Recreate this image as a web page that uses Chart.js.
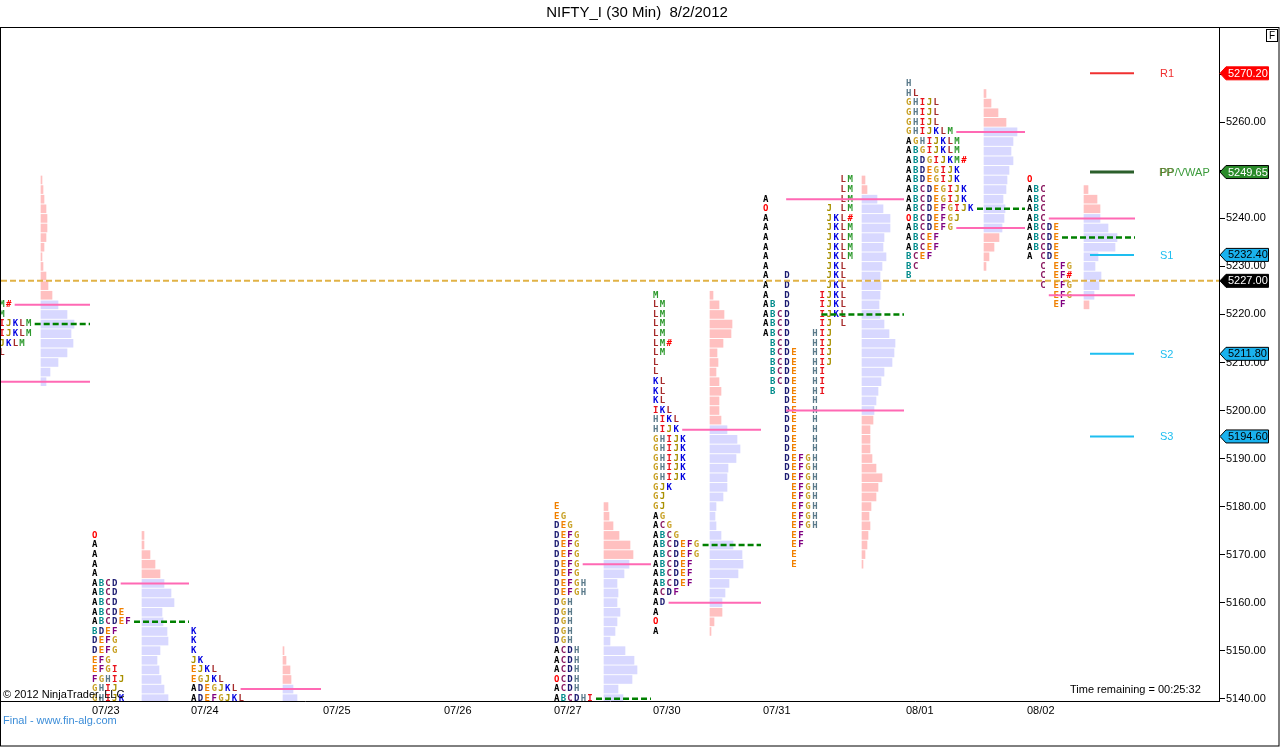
<!DOCTYPE html>
<html>
<head>
<meta charset="utf-8">
<title>NIFTY_I (30 Min) 8/2/2012</title>
<script src="https://cdn.jsdelivr.net/npm/chart.js@4.4.1/dist/chart.umd.min.js"></script>
<style>
  html, body { margin: 0; padding: 0; background: #fff; }
  #wrap { width: 1280px; height: 747px; }
</style>
</head>
<body>
<div id="wrap"><canvas id="myChart" width="1280" height="747"></canvas></div>
<script>
// sessions on the time axis (07/20 is the one cut off on the left)
const dayLabels = ['07/20', '07/23', '07/24', '07/25', '07/26', '07/27', '07/30', '07/31', '08/01', '08/02'];
const dayStarts = [-14, 92, 191, 323, 444, 554, 653, 763, 906, 1027];
const nextSessionStart = 1137;
const histStarts = [41, 142, 283, null, null, 604, 710, 862, 984, 1084];
const tpoPitch = [6.67, 6.67, 6.8, 6.67, 6.67, 6.67, 6.8, 7.05, 6.9, 6.6];

// TPO letters, one string per 2-point row, top row first
const tpoTop = [5222, 5174, 5154, null, null, 5180, 5224, 5248, 5268, 5248];
const tpo0720 = ['KLM#', 'KLM', 'GHIJKLM', 'GHIJKLM', 'HIJKLM', 'JKL'];
const tpo0723 = ['O', 'A', 'A', 'A', 'A', 'ABCD', 'ABCD', 'ABCD', 'ABCDE', 'ABCDEF', 'BDEF', 'DEFG',
  'DEFG', 'EFG', 'EFGI', 'FGHIJ', 'GHIJ', 'GHIJK'];
const tpo0724 = ['K', 'K', 'K', 'JK', 'EJKL', 'EGJKL', 'ADEGJKL', 'ADEFGJKL'];
const tpo0727 = ['E', 'EG', 'DEG', 'DEFG', 'DEFG', 'DEFG', 'DEFG', 'DEFG', 'DEFGH', 'DEFGH', 'DGH', 'DGH',
  'DGH', 'DGH', 'DGH', 'ACDH', 'ACDH', 'ACDH', 'OCDH', 'ACDH', 'ABCDHI'];
const tpo0730 = ['M', 'LM', 'LM', 'LM', 'LM', 'LM#', 'LM', 'L', 'L', 'KL', 'KL', 'KL', 'IKL', 'HIKL', 'HIJK',
  'GHIJK', 'GHIJK', 'GHIJK', 'GHIJK', 'GHIJK', 'GJK', 'GJ', 'GJ', 'AG', 'ACG', 'ABCG', 'ABCDEFG', 'ABCDEFG',
  'ABCDEF', 'ABCDEF', 'ABCDEF', 'ACDF', 'AD', 'A', 'O', 'A'];
const tpo0731 = ['           LM', '           LM', 'A          LM', 'O        J LM', 'A        JKL#',
  'A        JKLM', 'A        JKLM', 'A        JKLM', 'A        JKLM', 'A        JKL', 'A  D     JKL',
  'A  D     JKL', 'A  D    IJKL', 'AB D    IJKL', 'ABCD    IJKL', 'ABCD    IJ L', 'ABCD   HIJ', ' BCD   HIJ',
  ' BCDE  HIJ', ' BCDE  HIJ', ' BCDE  HI', ' BCDE  HI', ' B DE  HI', '   DE  H', '   DE  H', '   DE  H',
  '   DE  H', '   DE  H', '   DE  H', '   DEFGH', '   DEFGH', '   DEFGH', '    EFGH', '    EFGH', '    EFGH',
  '    EFGH', '    EFGH', '    EF', '    EF', '    E', '    E'];
const tpo0801 = ['H', 'HL', 'GHIJL', 'GHIJL', 'GHIJL', 'GHIJKLM', 'AGHIJKLM', 'ABGIJKLM', 'ABDGIJKM#',
  'ABDEGIJK', 'ABDEGIJK', 'ABCDEGIJK', 'ABCDEGIJK', 'ABCDEFGIJK', 'OBCDEFGJ', 'ABCDEFG', 'ABCEF', 'ABCEF',
  'BCEF', 'BC', 'B'];
const tpo0802 = ['O', 'ABC', 'ABC', 'ABC', 'ABC', 'ABCDE', 'ABCDE', 'ABCDE', 'A CDE', '  C EFG', '  C EF#',
  '  C EFG', '    EFG', '    EF'];
const tpoRows = [tpo0720, tpo0723, tpo0724, [], [], tpo0727, tpo0730, tpo0731, tpo0801, tpo0802];

// volume histogram, one bar per 2-point row, top row first
const volTop = [5248, 5174, 5150, null, null, 5180, 5224, 5248, 5266, 5246];
const vol0720 = [1, 2, 3, 5, 6, 6, 5, 3, 1, 2, 5, 7, 11, 17, 26, 33, 30, 32, 26, 17, 9, 5];
const vol0723 = [2, 2, 8, 13, 18, 22, 29, 32, 20, 21, 25, 26, 18, 15, 17, 19, 22, 26];
const vol0724 = [1, 3, 7, 8, 10, 14];
const vol0727 = [4, 5, 9, 15, 26, 29, 25, 20, 13, 14, 13, 16, 13, 11, 6, 21, 30, 33, 28, 14, 19];
const vol0730 = [3, 9, 14, 22, 21, 13, 7, 8, 6, 9, 11, 9, 9, 11, 17, 27, 30, 26, 18, 17, 17, 13,
  6, 5, 6, 11, 23, 32, 33, 28, 19, 15, 12, 12, 4, 1];
const vol0731 = [3, 5, 15, 21, 28, 28, 22, 21, 24, 20, 18, 19, 18, 17, 18, 22, 27, 33, 32, 30, 22, 19, 16,
  14, 12, 11, 8, 8, 8, 10, 14, 20, 16, 14, 9, 7, 8, 6, 5, 3, 1];
const vol0801 = [2, 7, 14, 22, 33, 29, 27, 29, 25, 23, 22, 19, 21, 20, 18, 15, 10, 5, 2];
const vol0802 = [4, 13, 16, 16, 24, 33, 31, 14, 11, 17, 15, 10, 5];
const volRows = [vol0720, vol0723, vol0724, [], [], vol0727, vol0730, vol0731, vol0801, vol0802];

// value area and point of control per session (null = off the chart)
const vah = [5222, 5164, 5142, null, null, 5168, 5196, 5244, 5258, 5240];
const val = [5206, null, null, null, null, null, 5160, 5200, 5238, 5224];
const poc = [5218, 5156, null, null, null, 5140, 5172, 5220, 5242, 5236];
const vaFromCol = [null, null, null, null, null, null, null, 3, null, 3];
const pocFromCol = [null, null, null, null, null, null, null, 8, null, null];

const lastPrice = 5227.00;
const pivotNames = ['R1', 'PP', 'S1', 'S2', 'S3'];
const pivotValues = [5270.20, 5249.65, 5232.40, 5211.80, 5194.60];
const pivotFrom = 1090, pivotTo = 1134;
const yTicks = [5140, 5150, 5160, 5170, 5180, 5190, 5200, 5210, 5220, 5230, 5240, 5250, 5260, 5270];

const letterColors = {
  A: '#000000', B: '#008b8b', C: '#8b1c62', D: '#191970', E: '#f08000', F: '#800080', G: '#c9a227',
  H: '#5a7a8a', I: '#e8101a', J: '#a89000', K: '#0000e0', L: '#a52a2a', M: '#2e9a2e', O: '#ff0000', '#': '#ff0000'
};
const pivotColors = ['#f03030', '#2b5f2b', '#1ebef0', '#1ebef0', '#1ebef0'];
const SANS = '"Liberation Sans", Arial, sans-serif';

// bars
const pinkBars = [], blueBars = [];
volRows.forEach((rows, i) => {
  rows.forEach((w, r) => {
    const price = volTop[i] - r * 2;
    const inVA = price <= vah[i] && price >= (val[i] ?? -Infinity);
    (inVA ? blueBars : pinkBars).push({ y: price, x: [histStarts[i], histStarts[i] + w] });
  });
});

function seg(price, from, to, color, width, dash) {
  return {
    type: 'line', data: [{ x: from, y: price }, { x: to, y: price }],
    borderColor: color, borderWidth: width, borderDash: dash || [],
    pointRadius: 0, fill: false, tension: 0
  };
}

function lineFrom(i, price, col) {
  let c = col;
  if (c == null) {
    const row = tpoRows[i][(tpoTop[i] - price) / 2] || '';
    c = row.trimEnd().length;
  }
  return dayStarts[i] + c * tpoPitch[i] + 2;
}

const lineSets = [];
lineSets.push(seg(lastPrice, 1, 1219, 'rgba(222,170,50,0.9)', 2, [6, 3]));
dayLabels.forEach((d, i) => {
  const end = (i + 1 < dayStarts.length ? dayStarts[i + 1] : nextSessionStart) - 2;
  [vah[i], val[i]].forEach(p => {
    if (p != null) lineSets.push(seg(p, lineFrom(i, p, vaFromCol[i]), end, '#ff69b4', 2));
  });
  if (poc[i] != null) lineSets.push(seg(poc[i], lineFrom(i, poc[i], pocFromCol[i]), end, '#008000', 2.5, [6, 3]));
});
pivotValues.forEach((v, i) => {
  lineSets.push(seg(v, pivotFrom, pivotTo, pivotColors[i], i === 1 ? 3 : 2));
});

function drawTag(ctx, py, text, bg, fg, border) {
  ctx.beginPath();
  ctx.moveTo(1220, py);
  ctx.lineTo(1226, py - 6.5);
  ctx.lineTo(1268.5, py - 6.5);
  ctx.lineTo(1268.5, py + 6.5);
  ctx.lineTo(1226, py + 6.5);
  ctx.closePath();
  ctx.fillStyle = bg;
  ctx.fill();
  ctx.strokeStyle = border;
  ctx.lineWidth = 1;
  ctx.stroke();
  ctx.fillStyle = fg;
  ctx.font = '11px ' + SANS;
  ctx.textAlign = 'left';
  ctx.textBaseline = 'middle';
  ctx.fillText(text, 1228, py + 0.5);
}

const profilePlugin = {
  id: 'profilePlugin',
  beforeDatasetsDraw(chart) {
    const { ctx, chartArea, scales: { x, y } } = chart;
    ctx.save();
    ctx.beginPath();
    ctx.rect(chartArea.left, chartArea.top, chartArea.right - chartArea.left, chartArea.bottom - chartArea.top);
    ctx.clip();
    ctx.font = 'bold 9px "DejaVu Sans Mono", monospace';
    ctx.textAlign = 'left';
    ctx.textBaseline = 'middle';
    tpoRows.forEach((rows, i) => {
      rows.forEach((row, r) => {
        const py = y.getPixelForValue(tpoTop[i] - r * 2);
        [...row].forEach((ch, c) => {
          if (ch === ' ') return;
          ctx.fillStyle = letterColors[ch];
          ctx.fillText(ch, x.getPixelForValue(dayStarts[i] + c * tpoPitch[i]), py);
        });
      });
    });
    ctx.restore();
  },
  afterDraw(chart) {
    const { ctx, scales: { y } } = chart;
    ctx.save();
    // title and frame
    ctx.fillStyle = '#000';
    ctx.font = '15px ' + SANS;
    ctx.textAlign = 'center';
    ctx.textBaseline = 'middle';
    ctx.fillText('NIFTY_I (30 Min)  8/2/2012', 637, 13);
    ctx.strokeStyle = '#000';
    ctx.lineWidth = 1;
    ctx.strokeRect(0.5, 27.5, 1278.5, 718.5);
    ctx.strokeRect(1266.5, 29.5, 11, 12);
    ctx.font = '10px ' + SANS;
    ctx.fillText('F', 1272, 36);

    // pivot names
    ctx.font = '11px ' + SANS;
    ctx.textAlign = 'left';
    pivotValues.forEach((v, i) => {
      const py = y.getPixelForValue(v);
      ctx.fillStyle = i === 1 ? '#3a9a3a' : pivotColors[i];
      ctx.fillText(i === 1 ? 'PP/VWAP' : pivotNames[i], 1160, py + 1);
      if (i === 1) {
        ctx.fillStyle = 'rgba(110,110,40,0.8)';
        ctx.fillText('PP', 1159, py + 1);
      }
    });

    // price tags on the axis
    const tagBg = ['#ff0000', '#2a8a2a', '#1ab2ee', '#1ab2ee', '#1ab2ee'];
    const tagFg = ['#fff', '#fff', '#000', '#000', '#000'];
    const tagBorder = ['#ff0000', '#000', '#000', '#000', '#000'];
    pivotValues.forEach((v, i) => {
      drawTag(ctx, y.getPixelForValue(v), v.toFixed(2), tagBg[i], tagFg[i], tagBorder[i]);
    });
    drawTag(ctx, y.getPixelForValue(lastPrice), lastPrice.toFixed(2), '#000', '#fff', '#000');

    // footer texts
    ctx.font = '11px ' + SANS;
    ctx.fillStyle = '#000';
    ctx.fillText('\u00a9 2012 NinjaTrader, LLC', 3, 695);
    ctx.fillText('Time remaining = 00:25:32', 1070, 690);
    ctx.fillStyle = '#3c8dd8';
    ctx.fillText('Final - www.fin-alg.com', 3, 721);
    ctx.restore();
  }
};

const ctx = document.getElementById('myChart');

new Chart(ctx, {
  type: 'bar',
  data: {
    datasets: [
      ...lineSets,
      { type: 'bar', indexAxis: 'y', data: blueBars, backgroundColor: '#d8d8ff', barThickness: 8, grouped: false, borderWidth: 0 },
      { type: 'bar', indexAxis: 'y', data: pinkBars, backgroundColor: '#ffc0c0', barThickness: 8, grouped: false, borderWidth: 0 }
    ]
  },
  options: {
    responsive: false,
    maintainAspectRatio: false,
    animation: false,
    devicePixelRatio: 1,
    events: [],
    layout: { padding: { top: 28, left: 1, right: 0, bottom: 0 } },
    plugins: {
      legend: { display: false },
      tooltip: { enabled: false }
    },
    scales: {
      x: {
        type: 'linear',
        min: 1,
        max: 1219,
        offset: false,
        grid: { display: false, drawTicks: false, tickLength: 0 },
        border: { display: true, color: '#000', width: 1 },
        afterFit(scale) { scale.height = 46; },
        afterBuildTicks(scale) {
          scale.ticks = dayStarts.slice(1).map(v => ({ value: v }));
        },
        ticks: {
          autoSkip: false,
          maxRotation: 0,
          align: 'start',
          padding: 3,
          color: '#000',
          font: { family: SANS, size: 11 },
          callback: (v, idx) => dayLabels[idx + 1]
        }
      },
      y: {
        type: 'linear',
        position: 'right',
        min: 5139.52,
        max: 5279.64,
        offset: false,
        grid: { display: true, drawOnChartArea: false, drawTicks: true, tickLength: 6, color: '#000', offset: false },
        border: { display: true, color: '#000', width: 1 },
        afterFit(scale) { scale.width = 61; },
        afterBuildTicks(scale) {
          scale.ticks = yTicks.map(v => ({ value: v }));
        },
        ticks: {
          padding: 1,
          color: '#000',
          font: { family: SANS, size: 11 },
          callback: v => v.toFixed(2)
        }
      }
    }
  },
  plugins: [profilePlugin]
});
</script>
</body>
</html>
